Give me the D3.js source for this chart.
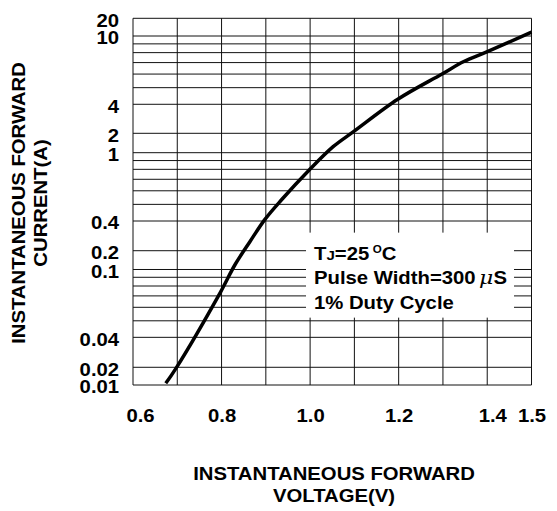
<!DOCTYPE html>
<html>
<head>
<meta charset="utf-8">
<script src="https://cdn.jsdelivr.net/npm/d3@7"></script>
<style>
  body { margin: 0; background: #fff; }
  svg { display: block; font-family: "Liberation Sans", Arial, sans-serif; font-weight: bold; }
</style>
</head>
<body>
<div id="chart"></div>
<script>
// forward characteristic
const voltage = [0.674, 0.697, 0.798, 0.830, 0.864, 0.898, 0.935, 0.998, 1.052, 1.098, 1.198, 1.298, 1.346, 1.399, 1.5];
const current = [0.0107, 0.0192, 0.074, 0.118, 0.247, 0.409, 0.53, 0.793, 1.24, 2.08, 4.28, 6.01, 7.08, 8.09, 11.6];

const xTicks = [0.6, 0.8, 1.0, 1.2, 1.4, 1.5];
const xGrid = [0.6, 0.7, 0.8, 0.9, 1.0, 1.1, 1.2, 1.3, 1.4, 1.5];
const yTicks = [20, 10, 4, 2, 1, 0.4, 0.2, 0.1, 0.04, 0.02, 0.01];
const yGrid = [20, 10, 9, 8, 7, 6, 5, 4, 2, 1, 0.9, 0.8, 0.7, 0.6, 0.5, 0.4, 0.2,
               0.1, 0.09, 0.08, 0.07, 0.06, 0.05, 0.04, 0.02, 0.01];

const xTitle = ["INSTANTANEOUS FORWARD", "VOLTAGE(V)"];
const yTitle = ["INSTANTANEOUS FORWARD", "CURRENT(A)"];

const W = 557, H = 511;
const margin = { top: 18.3, left: 133, right: 25.5, bottom: 126 };
const width = W - margin.left - margin.right;
const height = H - margin.top - margin.bottom;
const sx = 1.16; // the datasheet type is set wide

const svg = d3.select("#chart").append("svg")
  .attr("width", W).attr("height", H);

const g = svg.append("g").attr("transform", `translate(${margin.left},${margin.top})`);

const x = d3.scaleLinear().domain([0.6, 1.5]).range([0, width]);

// the printed grid is log-like but each labelled step is spaced by hand,
// so the scale is piecewise in log10 between the labelled values
const yStops = [0, 0.0483, 0.2345, 0.3136, 0.3665, 0.5528, 0.6338, 0.685, 0.870, 0.9517, 1];
const y = d3.scaleLinear()
  .domain(yTicks.map(Math.log10))
  .range(yStops.map(f => f * height));
const yv = v => y(Math.log10(v));

// grid
g.append("g").selectAll("line")
  .data(yGrid)
  .join("line")
  .attr("x1", 0).attr("x2", width)
  .attr("y1", d => yv(d)).attr("y2", d => yv(d))
  .attr("stroke", "#111").attr("stroke-width", 1);

g.append("g").selectAll("line")
  .data(xGrid)
  .join("line")
  .attr("x1", d => x(d)).attr("x2", d => x(d))
  .attr("y1", 0).attr("y2", height)
  .attr("stroke", "#111").attr("stroke-width", 1);

// curve
const pts = voltage.map((v, i) => [v, current[i]]);
g.append("path")
  .datum(pts)
  .attr("fill", "none")
  .attr("stroke", "#000")
  .attr("stroke-width", 3.5)
  .attr("d", d3.line()
    .x(d => x(d[0]))
    .y(d => yv(d[1]))
    .curve(d3.curveCatmullRom.alpha(0.5)));

// condition box
const box = g.append("g").attr("transform", `translate(${x(0.993) - 1},${yv(0.305)})`);
box.append("rect")
  .attr("width", 208).attr("height", 85)
  .attr("fill", "#fff");

const note = (dy) => box.append("text")
  .attr("transform", `translate(8,${dy}) scale(${sx},1)`)
  .attr("font-size", 17.5);

const n1 = note(27);
n1.append("tspan").text("T");
n1.append("tspan").attr("font-size", 13).text("J");
n1.append("tspan").text("=25");
n1.append("tspan").attr("font-size", 10).attr("dx", 3).attr("dy", -7).text("O");
n1.append("tspan").attr("dy", 7).text("C");

const n2 = note(51);
n2.append("tspan").text("Pulse Width=300");
n2.append("tspan").attr("dx", 3)
  .attr("font-family", "'DejaVu Serif', serif")
  .attr("font-style", "italic").attr("font-weight", "normal")
  .attr("font-size", 19).text("\u03bc");
n2.append("tspan").text("S");

note(76).text("1% Duty Cycle");

// axes (labels only; the frame is part of the grid)
const nudge = { 0.6: 7, 1.4: 5 };
const xAxis = g.append("g")
  .attr("transform", `translate(0,${height})`)
  .call(d3.axisBottom(x).tickValues(xTicks).tickFormat(d3.format(".1f"))
    .tickSize(0).tickPadding(25));
xAxis.select(".domain").remove();
xAxis.selectAll("text")
  .attr("font-size", 17.5)
  .attr("font-family", "'Liberation Sans', Arial, sans-serif")
  .attr("font-weight", "bold")
  .attr("fill", "#000")
  .attr("transform", d => `translate(${nudge[d] || 0},0) scale(${sx},1)`);

const yAxis = g.append("g")
  .call(d3.axisLeft(y).tickValues(yTicks.map(Math.log10))
    .tickFormat((d, i) => String(yTicks[i]))
    .tickSize(0).tickPadding(12));
yAxis.select(".domain").remove();
yAxis.selectAll("text")
  .attr("font-size", 17.5)
  .attr("font-family", "'Liberation Sans', Arial, sans-serif")
  .attr("font-weight", "bold")
  .attr("fill", "#000")
  .attr("dy", "0.45em")
  .attr("transform", `scale(${sx},1)`);

// axis titles
svg.append("g").selectAll("text")
  .data(xTitle)
  .join("text")
  .attr("transform", (d, i) => `translate(334,${480 + i * 22}) scale(${sx},1)`)
  .attr("text-anchor", "middle")
  .attr("font-size", 17.5)
  .text(d => d);

svg.append("g").selectAll("text")
  .data(yTitle)
  .join("text")
  .attr("transform", (d, i) => `translate(${25 + i * 22},203) rotate(-90) scale(${sx},1)`)
  .attr("text-anchor", "middle")
  .attr("font-size", 17.5)
  .text(d => d);
</script>
</body>
</html>
